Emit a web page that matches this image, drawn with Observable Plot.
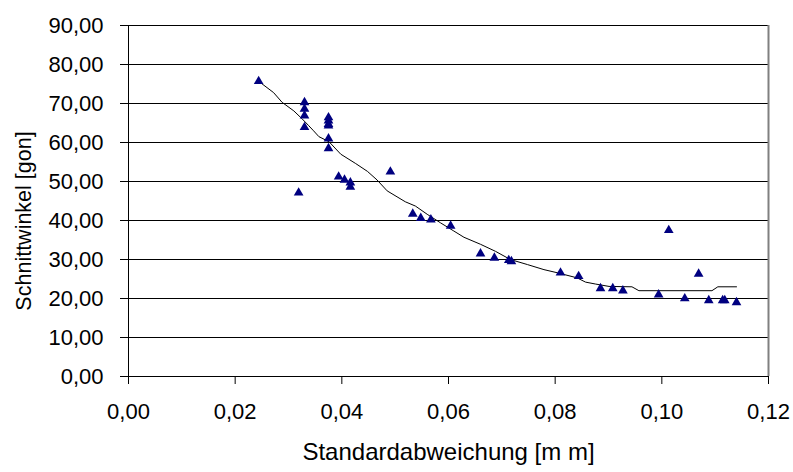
<!DOCTYPE html>
<html>
<head>
<meta charset="utf-8">
<script src="https://cdn.jsdelivr.net/npm/d3@7"></script>
<script src="https://cdn.jsdelivr.net/npm/@observablehq/plot@0.6"></script>
<style>
  html, body { margin: 0; padding: 0; background: #fff; }
  #chart { width: 793px; height: 472px; }
</style>
</head>
<body>
<div id="chart"></div>
<script>
const pointX = [0.0244, 0.0319, 0.0330, 0.0330, 0.0330, 0.0330, 0.0375, 0.0375, 0.0375, 0.0375, 0.0375, 0.0375, 0.0394, 0.0405, 0.0416, 0.0416, 0.0491, 0.0533, 0.0548, 0.0567, 0.0604, 0.0660, 0.0686, 0.0713, 0.0718, 0.0810, 0.0844, 0.0885, 0.0908, 0.0927, 0.0994, 0.1013, 0.1043, 0.1069, 0.1088, 0.1114, 0.1118, 0.1140];
const pointY = [75.7, 47.1, 70.3, 68.6, 66.9, 63.9, 66.4, 65.6, 64.7, 64.3, 61.0, 58.5, 51.2, 50.4, 49.7, 48.6, 52.5, 41.7, 40.6, 40.2, 38.6, 31.5, 30.4, 29.8, 29.5, 26.6, 25.7, 22.6, 22.6, 22.0, 21.0, 37.5, 20.0, 26.3, 19.5, 19.5, 19.5, 19.0];

const trendX = [0.0244, 0.0272, 0.0288, 0.0310, 0.0326, 0.0338, 0.0347, 0.0357, 0.0376, 0.0398, 0.0426, 0.0448, 0.0466, 0.0485, 0.0519, 0.0538, 0.0560, 0.0585, 0.0610, 0.0629, 0.0660, 0.0688, 0.0716, 0.0748, 0.0779, 0.0804, 0.0841, 0.0857, 0.0876, 0.0901, 0.0944, 0.0957, 0.1094, 0.1105, 0.1140];
const trendY = [75.7, 72.8, 70.3, 68.1, 66.0, 64.3, 63.0, 61.5, 60.2, 57.0, 54.6, 52.6, 50.4, 47.6, 44.8, 43.7, 41.6, 39.4, 37.3, 35.7, 33.9, 32.1, 30.0, 28.7, 27.4, 26.6, 25.3, 24.2, 23.7, 23.1, 23.0, 22.0, 22.0, 23.0, 23.0];

const xTicks = [0, 0.02, 0.04, 0.06, 0.08, 0.10, 0.12];
const yTicks = [0, 10, 20, 30, 40, 50, 60, 70, 80, 90];
const xLabel = "Standardabweichung [m m]";
const yLabel = "Schnittwinkel [gon]";

const points = pointX.map((x, i) => ({x, y: pointY[i]}));
const trend = trendX.map((x, i) => ({x, y: trendY[i]}));
const fmt = d => d.toFixed(2).replace(".", ",");

const chart = Plot.plot({
  width: 793,
  height: 472,
  marginLeft: 128,
  marginRight: 25,
  marginTop: 25,
  marginBottom: 96,
  style: {fontFamily: "'Liberation Sans', Arial, sans-serif", fontSize: "22px", color: "#000", background: "#fff"},
  x: {domain: [0, 0.12]},
  y: {domain: [0, 90]},
  marks: [
    Plot.ruleY(yTicks.filter(d => d > 0), {stroke: "#000", strokeWidth: 1}),
    Plot.ruleX([0.12], {stroke: "#808080", strokeWidth: 2}),
    Plot.axisX({ticks: xTicks, tickSize: 8, tickPadding: 19, tickFormat: fmt, label: null, fontSize: 22}),
    Plot.axisY({ticks: yTicks, tickSize: 8, tickPadding: 17, tickFormat: fmt, label: null, fontSize: 22}),
    Plot.ruleX([0], {stroke: "#000", strokeWidth: 1}),
    Plot.ruleY([0], {stroke: "#000", strokeWidth: 1}),
    Plot.line(trend, {x: "x", y: "y", stroke: "#000", strokeWidth: 1}),
    Plot.dot(points, {x: "x", y: "y", symbol: "triangle", r: 3.6, fill: "#000080", stroke: "none"}),
    Plot.text([xLabel], {frameAnchor: "bottom", dy: 76, lineAnchor: "middle", textAnchor: "middle", fontSize: 24, text: d => d}),
    Plot.text([yLabel], {frameAnchor: "left", dx: -104, dy: 20, rotate: -90, textAnchor: "middle", lineAnchor: "middle", fontSize: 21.5, text: d => d})
  ]
});
document.getElementById("chart").appendChild(chart);
</script>
</body>
</html>
